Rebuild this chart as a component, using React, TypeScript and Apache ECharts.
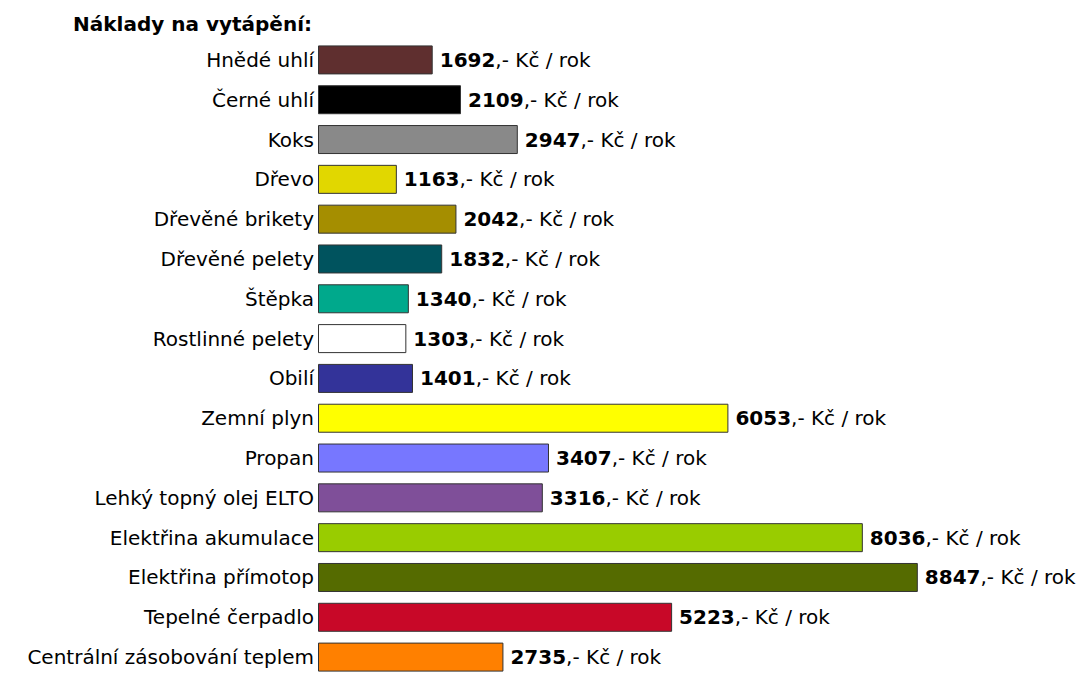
import React, { useEffect, useRef } from "react";
import * as echarts from "echarts";

const categories = [
  "Hnědé uhlí",
  "Černé uhlí",
  "Koks",
  "Dřevo",
  "Dřevěné brikety",
  "Dřevěné pelety",
  "Štěpka",
  "Rostlinné pelety",
  "Obilí",
  "Zemní plyn",
  "Propan",
  "Lehký topný olej ELTO",
  "Elektřina akumulace",
  "Elektřina přímotop",
  "Tepelné čerpadlo",
  "Centrální zásobování teplem",
];

const values = [1692, 2109, 2947, 1163, 2042, 1832, 1340, 1303, 1401, 6053, 3407, 3316, 8036, 8847, 5223, 2735];

const colors = [
  "#5f2f2f",
  "#000000",
  "#898989",
  "#e1d700",
  "#a58e00",
  "#00535e",
  "#00a98c",
  "#ffffff",
  "#333399",
  "#ffff00",
  "#7777ff",
  "#7f4f99",
  "#99cc00",
  "#556b00",
  "#c80828",
  "#ff8000",
];

const FONT = "'DejaVu Sans', Arial, sans-serif";

export default function App() {
  const ref = useRef<HTMLDivElement>(null);
  useEffect(() => {
    document.body.style.margin = "0";
    const chart = echarts.init(ref.current!, null, { renderer: "svg" });
    chart.setOption({
      animation: false,
      backgroundColor: "#ffffff",
      title: {
        text: "Náklady na vytápění:",
        left: 68,
        top: 9,
        textStyle: { fontFamily: FONT, fontSize: 20, fontWeight: "bold", color: "#000" },
      },
      grid: { left: 318, top: 40, width: 678, height: 642, containLabel: false },
      xAxis: {
        type: "value",
        min: 0,
        max: 10000,
        show: false,
      },
      yAxis: {
        type: "category",
        data: categories,
        inverse: true,
        axisLine: { show: false },
        axisTick: { show: false },
        splitLine: { show: false },
        axisLabel: { fontFamily: FONT, fontSize: 20, color: "#000", margin: 4 },
      },
      series: [
        {
          type: "bar",
          barWidth: 29,
          data: values.map((v, i) => ({
            value: v,
            itemStyle: { color: colors[i], borderColor: "#333", borderWidth: 1 },
          })),
          label: {
            show: true,
            position: "right",
            distance: 7,
            fontFamily: FONT,
            fontSize: 20,
            color: "#000",
            formatter: (p: any) => `{b|${p.value}},- Kč / rok`,
            rich: {
              b: { fontFamily: FONT, fontSize: 20, fontWeight: "bold", color: "#000" },
            },
          },
        },
      ],
    });
    return () => chart.dispose();
  }, []);
  return <div ref={ref} style={{ width: 1085, height: 677 }} />;
}
